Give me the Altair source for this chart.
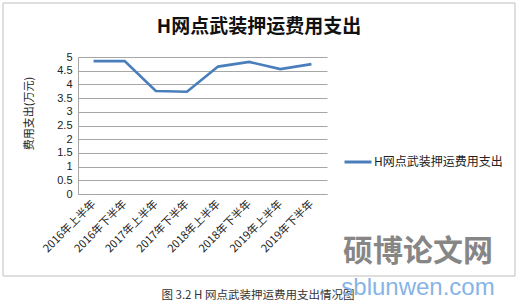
import altair as alt
import pandas as pd

periods = ["2016年上半年", "2016年下半年", "2017年上半年", "2017年下半年",
           "2018年上半年", "2018年下半年", "2019年上半年", "2019年下半年"]
costs = [4.85, 4.85, 3.76, 3.73, 4.65, 4.82, 4.56, 4.74]
series_name = "H网点武装押运费用支出"
y_ticks = [0, 0.5, 1, 1.5, 2, 2.5, 3, 3.5, 4, 4.5, 5]

df = pd.DataFrame({"period": periods, "cost": costs, "series": [series_name] * len(periods)})
one = pd.DataFrame({"k": [0]})

CJK = "Noto Sans CJK SC"

frame = alt.Chart(one).mark_rect(filled=False, stroke="#bfbfbf", strokeWidth=1).encode(
    x=alt.value(-75), x2=alt.value(437), y=alt.value(-54), y2=alt.value(219)
)

line = alt.Chart(df).mark_line(strokeWidth=2.6).encode(
    x=alt.X("period:N", sort=periods, scale=alt.Scale(type="point", padding=0.5),
            axis=alt.Axis(title=None, labelAngle=-45, labelAlign="right", labelBaseline="middle",
                          labelFont=CJK, labelFontSize=11, labelColor="#222", labelPadding=8,
                          ticks=False, domainColor="#a6a6a6", grid=False)),
    y=alt.Y("cost:Q", scale=alt.Scale(domain=[0, 5], nice=False),
            axis=alt.Axis(values=y_ticks, format="~g", title="费用支出(万元)",
                          titleFont=CJK, titleFontSize=11, titleFontWeight="normal", titleColor="#222",
                          titleX=-49, titleY=56, titleAngle=270, titleAlign="center", titleBaseline="middle",
                          labelFont="Liberation Sans", labelFontSize=11, labelColor="#222", labelPadding=6,
                          ticks=False, domainColor="#a6a6a6", gridColor="#a6a6a6", gridWidth=1)),
    color=alt.Color("series:N", scale=alt.Scale(range=["#4a7ebb"]),
                    legend=alt.Legend(title=None, orient="none", legendX=265, legendY=90,
                                      symbolType="stroke", symbolSize=729, symbolStrokeWidth=3,
                                      labelFont=CJK, labelFontSize=12, labelColor="#222", labelOffset=1))
)

title = alt.Chart(one).mark_text(text="H网点武装押运费用支出", font=CJK, fontSize=19, fontWeight="bold",
                                 color="#111", baseline="middle", align="center").encode(
    x=alt.value(181), y=alt.value(-30))

caption = alt.Chart(one).mark_text(text="图 3.2 H 网点武装押运费用支出情况图", font=CJK, fontSize=11.5,
                                   color="#333", baseline="middle", align="center").encode(
    x=alt.value(180), y=alt.value(239))

wm1 = alt.Chart(one).mark_text(text="硕博论文网", font=CJK, fontSize=30, fontWeight="bold",
                               color="#7a7a7a", baseline="middle", align="center", opacity=0.9).encode(
    x=alt.value(340), y=alt.value(195))

wm2 = alt.Chart(one).mark_text(text="sblunwen.com", font="Liberation Sans", fontSize=24,
                               color="#86b4e6", baseline="middle", align="center").encode(
    x=alt.value(340), y=alt.value(231))

chart = alt.layer(frame, line, title, caption, wm1, wm2).properties(
    width=249, height=137,
    autosize=alt.AutoSizeParams(type="none"),
    padding={"left": 78, "top": 57, "right": 194, "bottom": 113},
    background="white"
).configure_view(stroke=None)

chart.save("out.html", embed_options={"renderer": "svg", "actions": False})
